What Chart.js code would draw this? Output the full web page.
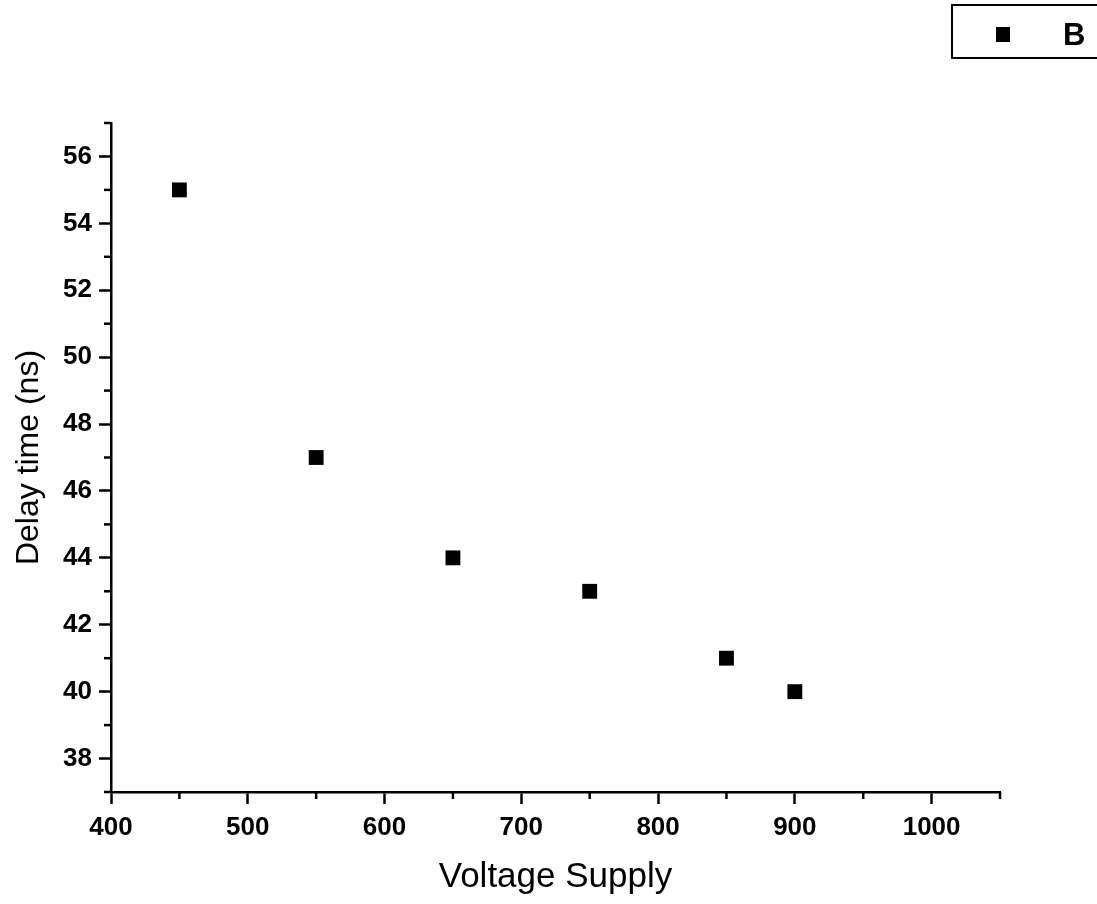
<!DOCTYPE html>
<html><head><meta charset="utf-8">
<script src="https://cdn.jsdelivr.net/npm/chart.js@4.4.1/dist/chart.umd.min.js"></script>
<style>html,body{margin:0;padding:0;background:#fff}#wrap{width:1097px;height:904px}</style>
</head><body><div id="wrap"><canvas id="c" width="1097" height="904"></canvas></div>
<script>
const voltages = [450, 550, 650, 750, 850, 900];
const delays = [55, 47, 44, 43, 41, 40];
const xTickValues = [400, 500, 600, 700, 800, 900, 1000];
const yTickValues = [38, 40, 42, 44, 46, 48, 50, 52, 54, 56];
const seriesName = 'B';
const xTitle = 'Voltage Supply';
const yTitle = 'Delay time (ns)';

const FONT = "'Liberation Sans', Arial, sans-serif";

const minorTicks = {
  id: 'minorTicks',
  afterDraw(chart) {
    const ctx = chart.ctx, x = chart.scales.x, y = chart.scales.y;
    ctx.save();
    ctx.strokeStyle = '#000'; ctx.lineWidth = 2.5;
    for (let v = 450; v <= 1050; v += 100) {
      const px = x.getPixelForValue(v);
      ctx.beginPath(); ctx.moveTo(px, x.top); ctx.lineTo(px, x.top + 7); ctx.stroke();
    }
    for (let v = 37; v <= 57; v += 2) {
      const py = y.getPixelForValue(v);
      ctx.beginPath(); ctx.moveTo(y.right, py); ctx.lineTo(y.right - 7, py); ctx.stroke();
    }
    // legend box
    ctx.lineWidth = 2;
    ctx.strokeRect(952, 5, 160, 53);
    ctx.fillStyle = '#000';
    ctx.fillRect(996, 27, 14, 15);
    ctx.font = "bold 31px " + FONT;
    ctx.textBaseline = 'middle';
    ctx.fillText(chart.data.datasets[0].label, 1063, 36);
    ctx.restore();
  }
};

new Chart(document.getElementById('c'), {
  type: 'scatter',
  data: { datasets: [{
    label: seriesName,
    data: voltages.map((v, i) => ({x: v, y: delays[i]})),
    pointStyle: 'rect', pointRadius: 10.5, pointHoverRadius: 10.5,
    backgroundColor: '#000', borderColor: '#000', borderWidth: 0
  }]},
  options: {
    responsive: false, animation: false,
    layout: { padding: { top: 123, right: 97, left: 0, bottom: 0 } },
    plugins: { legend: { display: false }, tooltip: { enabled: false } },
    scales: {
      x: {
        type: 'linear', min: 400, max: 1050,
        afterBuildTicks(s) { s.ticks = xTickValues.map(v => ({value: v})); },
        afterFit(s) { s.height = 112; },
        grid: { drawOnChartArea: false, drawTicks: true, tickLength: 12, tickWidth: 2.5, tickColor: '#000' },
        border: { display: true, color: '#000', width: 2.5 },
        ticks: { color: '#000', padding: 8, maxRotation: 0, callback: v => String(v), font: { family: FONT, size: 26, weight: 'bold' } },
        title: { display: true, text: xTitle, color: '#000', padding: { top: 0, bottom: 6 }, font: { family: FONT, size: 35 } }
      },
      y: {
        type: 'linear', min: 37, max: 57,
        afterBuildTicks(s) { s.ticks = yTickValues.map(v => ({value: v})); },
        afterFit(s) { s.width = 111; },
        grid: { drawOnChartArea: false, drawTicks: true, tickLength: 12, tickWidth: 2.5, tickColor: '#000' },
        border: { display: true, color: '#000', width: 2.5 },
        ticks: { color: '#000', padding: 7, callback: v => String(v), font: { family: FONT, size: 26, weight: 'bold' } },
        title: { display: true, text: yTitle, color: '#000', padding: { top: 10, bottom: 0 }, font: { family: FONT, size: 32 } }
      }
    }
  },
  plugins: [minorTicks]
});
</script></body></html>
